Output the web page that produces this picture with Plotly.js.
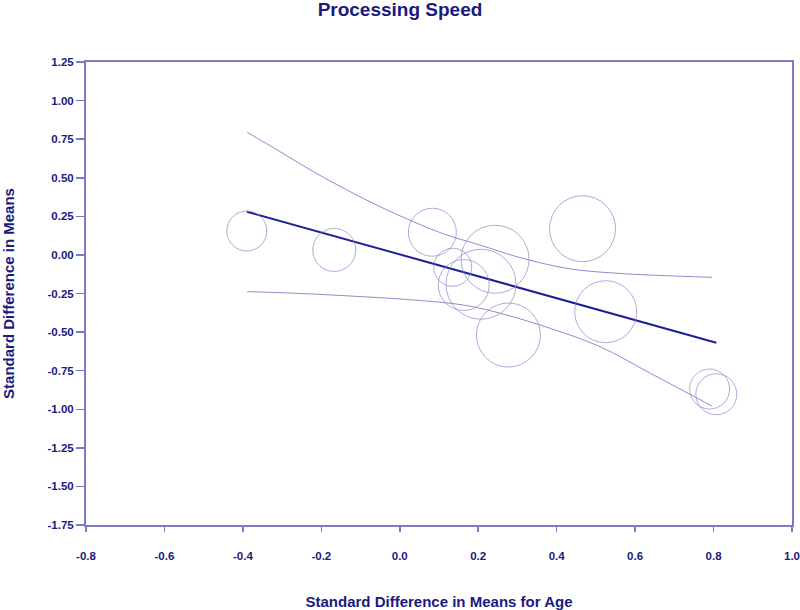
<!DOCTYPE html>
<html>
<head>
<meta charset="utf-8">
<script src="https://cdn.plot.ly/plotly-3.0.1.min.js"></script>
<style>html,body{margin:0;padding:0;background:#fff;}#chart{width:800px;height:610px;}</style>
</head>
<body>
<div id="chart"></div>
<script>
// Studies: effect for age (x), effect for processing speed (y), relative weight (bubble)
const studyX = [-0.390, -0.167, 0.083, 0.135, 0.243, 0.163, 0.207, 0.277, 0.466, 0.525, 0.790, 0.807];
const studyY = [0.155, 0.032, 0.147, -0.080, -0.028, -0.195, -0.190, -0.519, 0.170, -0.368, -0.869, -0.903];
const studyWeight = [40, 43, 48, 38, 68, 51, 70, 64, 66, 62, 40, 41];

// Regression line
const regX = [-0.390, 0.807];
const regY = [0.280, -0.569];

// Upper confidence curve
const upX = [-0.389, -0.305, -0.220, -0.135, -0.050, 0.035, 0.120, 0.205, 0.299, 0.426, 0.554, 0.796];
const upY = [0.794, 0.669, 0.539, 0.421, 0.312, 0.215, 0.129, 0.064, -0.012, -0.087, -0.119, -0.145];

// Lower confidence curve
const loX = [-0.389, -0.262, -0.093, 0.035, 0.163, 0.256, 0.384, 0.511, 0.639, 0.796];
const loY = [-0.238, -0.249, -0.271, -0.292, -0.325, -0.378, -0.476, -0.595, -0.767, -0.979];

const xTicks = [-0.8, -0.6, -0.4, -0.2, 0.0, 0.2, 0.4, 0.6, 0.8, 1.0];
const xTickText = ['-0.8', '-0.6', '-0.4', '-0.2', '0.0', '0.2', '0.4', '0.6', '0.8', '1.0'];
const yTicks = [1.25, 1.00, 0.75, 0.50, 0.25, 0.00, -0.25, -0.50, -0.75, -1.00, -1.25, -1.50, -1.75];
const yTickText = ['1.25', '1.00', '0.75', '0.50', '0.25', '0.00', '-0.25', '-0.50', '-0.75', '-1.00', '-1.25', '-1.50', '-1.75'];

const navy = '#1a1a80';
const axisCol = '#7b7bc4';
const fontFam = '"Liberation Sans", Arial, sans-serif';

const traces = [
  {x: upX, y: upY, mode: 'lines', line: {color: '#8d8dcc', width: 1, shape: 'spline'}, hoverinfo: 'skip'},
  {x: loX, y: loY, mode: 'lines', line: {color: '#8d8dcc', width: 1, shape: 'spline'}, hoverinfo: 'skip'},
  {x: regX, y: regY, mode: 'lines', line: {color: '#1f1f99', width: 2}},
  {x: studyX, y: studyY, mode: 'markers',
   marker: {size: studyWeight, sizemode: 'diameter', color: 'rgba(0,0,0,0)',
            line: {color: '#8a8ac8', width: 1}}}
];

const layout = {
  width: 800, height: 610,
  margin: {l: 86, r: 8, t: 62, b: 85},
  paper_bgcolor: '#fff', plot_bgcolor: '#fff',
  showlegend: false,
  font: {family: fontFam, color: navy},
  title: {text: '<b>Processing Speed</b>', font: {size: 19, color: navy, family: fontFam},
          x: 0.5, xanchor: 'center', yref: 'container', y: 0.985, yanchor: 'middle'},
  xaxis: {
    range: [-0.8, 1.0], tickvals: xTicks, ticktext: xTickText,
    showgrid: false, zeroline: false,
    showline: true, linecolor: axisCol, linewidth: 2, mirror: true,
    ticks: 'outside', ticklen: 5, tickwidth: 1.5, tickcolor: axisCol,
    ticklabelstandoff: 14,
    tickfont: {size: 11.5, color: navy, family: fontFam, weight: 'bold'},
    title: {text: '<b>Standard Difference in Means for Age</b>', font: {size: 15, color: navy, family: fontFam}, standoff: 36}
  },
  yaxis: {
    range: [-1.75, 1.25], tickvals: yTicks, ticktext: yTickText,
    showgrid: false, zeroline: false,
    showline: true, linecolor: axisCol, linewidth: 2, mirror: true,
    ticks: 'outside', ticklen: 8, tickwidth: 1.5, tickcolor: axisCol,
    tickfont: {size: 11.5, color: navy, family: fontFam, weight: 'bold'},
    title: {text: '<b>Standard Difference in Means</b>', font: {size: 15, color: navy, family: fontFam}, standoff: 35}
  }
};

Plotly.newPlot('chart', traces, layout, {displayModeBar: false, staticPlot: true});
</script>
</body>
</html>
